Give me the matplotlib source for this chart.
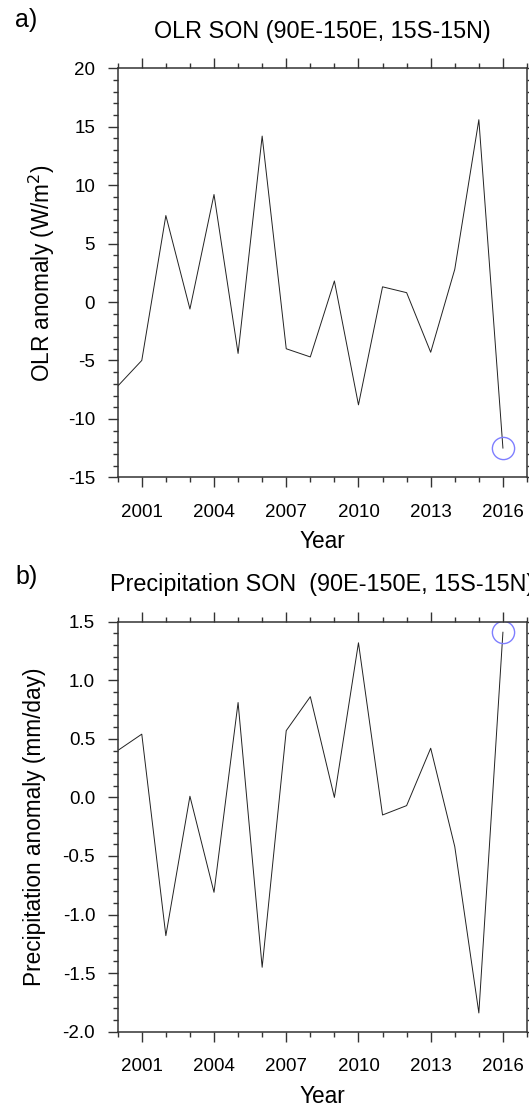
import numpy as np
import matplotlib
matplotlib.use("Agg")
import matplotlib.pyplot as plt
from matplotlib.ticker import MultipleLocator, FixedLocator, FormatStrFormatter

plt.rcParams['font.family'] = ['Liberation Sans', 'DejaVu Sans']
plt.rcParams['axes.unicode_minus'] = False

# data
years = np.arange(2000, 2017)
olr = [-7.2, -5.0, 7.4, -0.6, 9.2, -4.4, 14.2, -4.0, -4.7, 1.8,
       -8.8, 1.3, 0.8, -4.3, 2.8, 15.6, -12.5]
precip = [0.40, 0.54, -1.18, 0.01, -0.81, 0.81, -1.45, 0.57, 0.86, 0.0,
          1.32, -0.15, -0.07, 0.42, -0.42, -1.84, 1.41]
year_ticks = [2001, 2004, 2007, 2010, 2013, 2016]

W, H = 529, 1107
fig = plt.figure(figsize=(W / 100, H / 100), dpi=100)

left = 117.7 / W
width = (527 - 117.7) / W
ax1 = fig.add_axes([left, 1 - 477.3 / H, width, 409 / H])
ax2 = fig.add_axes([left, 1 - 1031.7 / H, width, 410 / H])


def style(ax, vals, ylim, major, minor, fmt):
    ax.plot(years, vals, color='#222222', lw=0.7)
    ax.plot(years[-1], vals[-1], 'o', ms=16, mfc='none', mec='#7f7fff', mew=1.0)
    ax.set_xlim(2000, 2017)
    ax.set_ylim(*ylim)
    ax.xaxis.set_major_locator(FixedLocator(year_ticks))
    ax.xaxis.set_minor_locator(MultipleLocator(1))
    ax.yaxis.set_major_locator(MultipleLocator(major))
    ax.yaxis.set_minor_locator(MultipleLocator(minor))
    ax.yaxis.set_major_formatter(FormatStrFormatter(fmt))
    ax.tick_params(which='both', direction='out', top=True, right=True,
                   colors='#333333', labelcolor='black', labelsize=13.5, width=1.0)
    ax.tick_params(which='major', length=7.2, pad=9)
    ax.tick_params(axis='x', which='major', pad=12)
    ax.tick_params(which='minor', length=3.6)
    for s in ax.spines.values():
        s.set_linewidth(1.1)
        s.set_color('#333333')


style(ax1, olr, (-15, 20), 5, 1, '%d')
style(ax2, precip, (-2.0, 1.5), 0.5, 0.1, '%.1f')

cx = (117.7 + 527) / 2 / W
fig.text(cx, 1 - 31.7 / H, 'OLR SON (90E-150E, 15S-15N)', ha='center', va='center', fontsize=16.8)
fig.text(cx, 1 - 585 / H, 'Precipitation SON  (90E-150E, 15S-15N)', ha='center', va='center', fontsize=16.8)
fig.text(15 / W, 1 - 20 / H, 'a)', ha='left', va='center', fontsize=18)
fig.text(15 / W, 1 - 577 / H, 'b)', ha='left', va='center', fontsize=18)

fig.text(42 / W, 1 - 272.8 / H, 'OLR anomaly (W/m$^2$)', rotation=90,
         ha='center', va='center', fontsize=16.3)
fig.text(35 / W, 1 - 826.7 / H, 'Precipitation anomaly (mm/day)', rotation=90,
         ha='center', va='center', fontsize=16.3)
fig.text(cx, 1 - 541.7 / H, 'Year', ha='center', va='center', fontsize=16.3)
fig.text(cx, 1 - 1096.7 / H, 'Year', ha='center', va='center', fontsize=16.3)

fig.savefig('out.png', dpi=100)
